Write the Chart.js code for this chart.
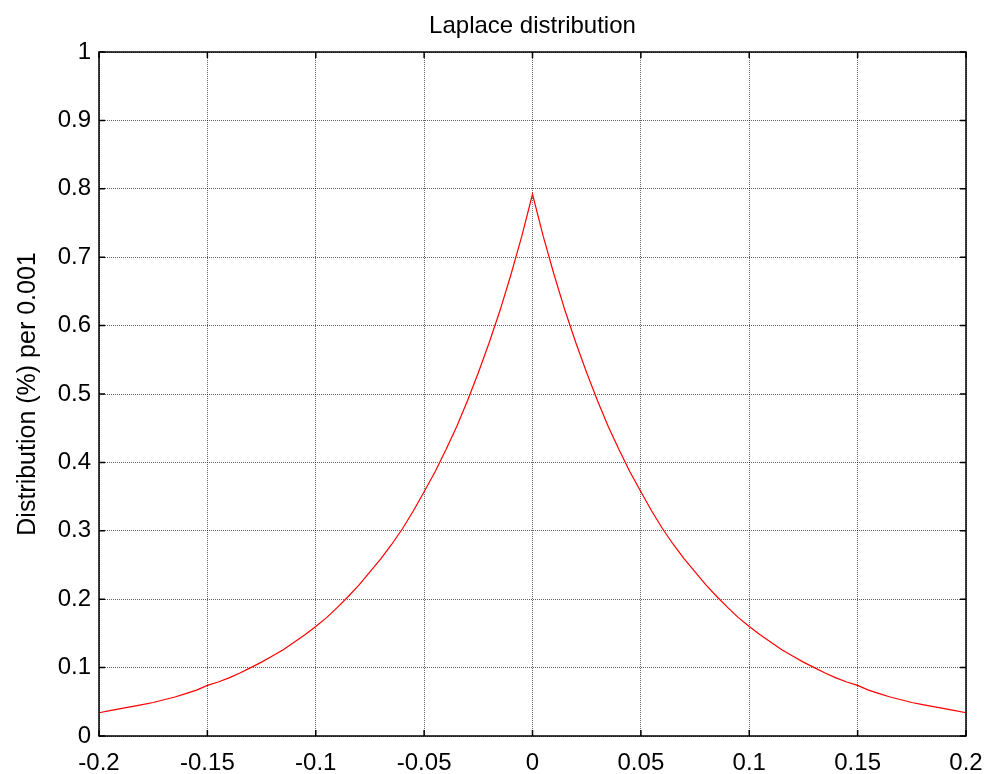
<!DOCTYPE html>
<html>
<head>
<meta charset="utf-8">
<script src="https://cdn.jsdelivr.net/npm/chart.js@4/dist/chart.umd.min.js"></script>
<style>
html,body{margin:0;padding:0;background:#fff;}
#wrap{width:990px;height:774px;position:relative;}
</style>
</head>
<body>
<div id="wrap"><canvas id="c" width="990" height="774"></canvas></div>
<script>
const chartTitle = 'Laplace distribution';
const yAxisTitle = 'Distribution (%) per 0.001';
const xValues = [-0.2,-0.195,-0.19,-0.185,-0.18,-0.175,-0.17,-0.165,-0.16,-0.155,-0.15,-0.145,-0.14,-0.135,-0.13,-0.125,-0.12,-0.115,-0.11,-0.105,-0.1,-0.095,-0.09,-0.085,-0.08,-0.075,-0.07,-0.065,-0.06,-0.055,-0.05,-0.045,-0.04,-0.035,-0.03,-0.025,-0.02,-0.015,-0.01,-0.005,0,0.005,0.01,0.015,0.02,0.025,0.03,0.035,0.04,0.045,0.05,0.055,0.06,0.065,0.07,0.075,0.08,0.085,0.09,0.095,0.1,0.105,0.11,0.115,0.12,0.125,0.13,0.135,0.14,0.145,0.15,0.155,0.16,0.165,0.17,0.175,0.18,0.185,0.19,0.195,0.2];
const yValues = [0.034,0.037,0.040,0.043,0.046,0.049,0.053,0.057,0.062,0.067,0.074,0.079,0.085,0.092,0.100,0.108,0.117,0.126,0.137,0.148,0.160,0.173,0.188,0.204,0.221,0.240,0.259,0.280,0.303,0.329,0.357,0.386,0.418,0.452,0.490,0.531,0.575,0.622,0.674,0.730,0.792,0.730,0.674,0.622,0.575,0.531,0.490,0.452,0.418,0.386,0.357,0.329,0.303,0.280,0.259,0.240,0.221,0.204,0.188,0.173,0.160,0.148,0.137,0.126,0.117,0.108,0.100,0.092,0.085,0.079,0.074,0.067,0.062,0.057,0.053,0.049,0.046,0.043,0.040,0.037,0.034];
const xTickValues = [-0.2,-0.15,-0.1,-0.05,0,0.05,0.1,0.15,0.2];
const xTickLabels = ['-0.2','-0.15','-0.1','-0.05','0','0.05','0.1','0.15','0.2'];
const yTickValues = [0,0.1,0.2,0.3,0.4,0.5,0.6,0.7,0.8,0.9,1];
const yTickLabels = ['0','0.1','0.2','0.3','0.4','0.5','0.6','0.7','0.8','0.9','1'];

const FONT = 'Arial, "Liberation Sans", Helvetica, sans-serif';

const boxPlugin = {
  id: 'matlabBox',
  afterDatasetsDraw(chart) {
    const ctx = chart.ctx, a = chart.chartArea;
    const xs = chart.scales.x, ys = chart.scales.y;
    ctx.save();
    ctx.strokeStyle = '#000';
    ctx.lineWidth = 1.5;
    ctx.strokeRect(a.left, a.top, a.right - a.left, a.bottom - a.top);
    const L = 6;
    ctx.beginPath();
    xTickValues.forEach(v => {
      const px = xs.getPixelForValue(v);
      ctx.moveTo(px, a.bottom); ctx.lineTo(px, a.bottom - L);
      ctx.moveTo(px, a.top); ctx.lineTo(px, a.top + L);
    });
    yTickValues.forEach(v => {
      const py = ys.getPixelForValue(v);
      ctx.moveTo(a.left, py); ctx.lineTo(a.left + L, py);
      ctx.moveTo(a.right, py); ctx.lineTo(a.right - L, py);
    });
    ctx.stroke();
    ctx.fillStyle = '#000';
    ctx.font = '24px ' + FONT;
    ctx.textAlign = 'center';
    ctx.textBaseline = 'alphabetic';
    ctx.fillText(chartTitle, (a.left + a.right) / 2, 33);
    ctx.restore();
  }
};

new Chart(document.getElementById('c'), {
  type: 'line',
  data: {
    datasets: [{
      data: xValues.map((x, i) => ({x: x, y: yValues[i]})),
      borderColor: '#ff0000',
      borderWidth: 1.2,
      pointRadius: 0,
      tension: 0,
      fill: false
    }]
  },
  options: {
    responsive: false,
    animation: false,
    devicePixelRatio: 1,
    layout: {padding: {left: 0, right: 24, top: 52, bottom: 0}},
    plugins: {
      legend: {display: false},
      tooltip: {enabled: false},
      title: {display: false}
    },
    scales: {
      x: {
        type: 'linear',
        min: -0.2, max: 0.2,
        afterBuildTicks(s) { s.ticks = xTickValues.map(v => ({value: v})); },
        afterFit(s) { s.height = 38; s.paddingLeft = 0; s.paddingRight = 0; },
        ticks: {
          autoSkip: false, maxRotation: 0, padding: 13,
          color: '#000',
          font: {family: FONT, size: 24},
          callback: (v, i) => xTickLabels[i]
        },
        grid: {color: 'rgba(0,0,0,0.62)', lineWidth: 1, drawTicks: false, tickLength: 0},
        border: {display: false, dash: [1, 1]}
      },
      y: {
        type: 'linear',
        min: 0, max: 1,
        afterBuildTicks(s) { s.ticks = yTickValues.map(v => ({value: v})); },
        afterFit(s) { s.width = 99; s.paddingTop = 0; s.paddingBottom = 0; },
        title: {
          display: true, text: yAxisTitle, color: '#000',
          font: {family: FONT, size: 25, lineHeight: 1.2},
          padding: {top: 13, bottom: 0}
        },
        ticks: {
          autoSkip: false, padding: 8,
          color: '#000',
          font: {family: FONT, size: 24},
          callback: (v, i) => yTickLabels[i]
        },
        grid: {color: 'rgba(0,0,0,0.62)', lineWidth: 1, drawTicks: false, tickLength: 0},
        border: {display: false, dash: [1, 1]}
      }
    }
  },
  plugins: [boxPlugin]
});
</script>
</body>
</html>
